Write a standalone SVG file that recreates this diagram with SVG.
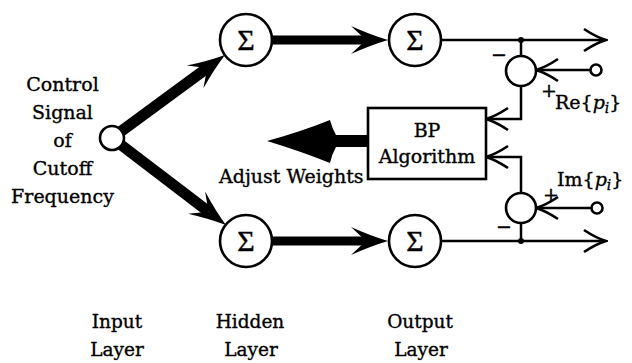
<svg xmlns="http://www.w3.org/2000/svg" width="632" height="363" viewBox="0 0 632 363">
<style>
.t{font-family:"DejaVu Serif","Liberation Serif",serif;font-size:19px;fill:#000;stroke:#000;stroke-width:0.35}
.lbl{font-family:"DejaVu Serif","Liberation Serif",serif;font-size:18.5px;fill:#000;stroke:#000;stroke-width:0.35;text-anchor:middle}
.sig{font-family:"Liberation Serif","DejaVu Serif",serif;font-size:30px;fill:#000;stroke:#000;stroke-width:0.4;text-anchor:middle}
.node{fill:#fff;stroke:#000;stroke-width:2.6}
.thin{fill:none;stroke:#000;stroke-width:2.5}
.thickd{fill:none;stroke:#000;stroke-width:11}
.thickh{fill:none;stroke:#000;stroke-width:9}
</style>
<defs>
<marker id="big" markerUnits="userSpaceOnUse" viewBox="-1 -15 40 30" markerWidth="40" markerHeight="30" refX="15" refY="0" orient="auto">
<path d="M37,0 Q20,-5 0,-14 L15,0 L0,14 Q20,5 37,0 Z" fill="#000"/>
</marker>
<marker id="open" markerUnits="userSpaceOnUse" viewBox="-2 -13 26 26" markerWidth="26" markerHeight="26" refX="21" refY="0" orient="auto">
<path d="M0,-11 Q12,-3 22,0 Q12,3 0,11" fill="none" stroke="#000" stroke-width="2.7"/>
</marker>
</defs>
<g id="connectors">
<line class="thickd" x1="112" y1="138" x2="207.2" y2="68" marker-end="url(#big)"/>
<line class="thickd" x1="112" y1="138" x2="208.5" y2="211.7" marker-end="url(#big)"/>
<line class="thickh" x1="272" y1="40" x2="366" y2="40" marker-end="url(#big)"/>
<line class="thickh" x1="272" y1="241" x2="366" y2="241" marker-end="url(#big)"/>
<line class="thin" x1="441" y1="40" x2="605" y2="40" marker-end="url(#open)"/>
<line class="thin" x1="441" y1="241" x2="605" y2="241" marker-end="url(#open)"/>
<line class="thin" x1="521" y1="40" x2="521" y2="56"/>
<polyline class="thin" points="521,86 521,119 487,119" marker-end="url(#open)"/>
<line class="thin" x1="590" y1="70" x2="537" y2="70" marker-end="url(#open)"/>
<line class="thin" x1="521" y1="241" x2="521" y2="223"/>
<polyline class="thin" points="521,193 521,157 487,157" marker-end="url(#open)"/>
<line class="thin" x1="591" y1="208" x2="537" y2="208" marker-end="url(#open)"/>
<path d="M368,135 L336,135 Q332,128 330,120 Q300,132 267,141 Q300,151 330,163 Q332,154 336,147 L368,147 Z" fill="#000"/>
<circle cx="521" cy="40" r="3" fill="#000"/>
<circle cx="521" cy="241" r="3" fill="#000"/>
</g>
<g id="input">
<circle class="node" cx="112" cy="138" r="12"/>
<text class="t" text-anchor="middle" x="62.5" y="91">Control</text>
<text class="t" text-anchor="middle" x="62.5" y="119">Signal</text>
<text class="t" text-anchor="middle" x="62.5" y="147">of</text>
<text class="t" text-anchor="middle" x="62.5" y="175">Cutoff</text>
<text class="t" text-anchor="middle" x="62.5" y="203">Frequency</text>
</g>
<g id="hidden1"><circle class="node" cx="246" cy="40" r="26"/><text class="sig" x="246" y="50">Σ</text></g>
<g id="hidden2"><circle class="node" cx="246" cy="241" r="26"/><text class="sig" x="246" y="251">Σ</text></g>
<g id="output1"><circle class="node" cx="415" cy="40" r="26"/><text class="sig" x="415" y="50">Σ</text></g>
<g id="output2"><circle class="node" cx="415" cy="241" r="26"/><text class="sig" x="415" y="251">Σ</text></g>
<g id="sumRe">
<circle class="node" cx="521" cy="71" r="15"/>
<text class="t" x="491" y="61">−</text>
<text class="t" x="541" y="97">+</text>
</g>
<g id="sumIm">
<circle class="node" cx="521" cy="208" r="15"/>
<text class="t" x="543" y="201">+</text>
<text class="t" x="496" y="233">−</text>
</g>
<g id="refRe">
<circle class="node" cx="596" cy="70" r="5.5" stroke-width="2.2"/>
<text class="t" x="555" y="109" font-size="21">Re{<tspan font-style="italic">p</tspan><tspan font-style="italic" font-size="14" dy="4">i</tspan><tspan dy="-4">}</tspan></text>
</g>
<g id="refIm">
<circle class="node" cx="597" cy="208" r="5.5" stroke-width="2.2"/>
<text class="t" x="557" y="186" font-size="21">Im{<tspan font-style="italic">p</tspan><tspan font-style="italic" font-size="14" dy="4">i</tspan><tspan dy="-4">}</tspan></text>
</g>
<g id="bp">
<rect class="node" x="368" y="108" width="118" height="71"/>
<text class="t" text-anchor="middle" x="427" y="137">BP</text>
<text class="t" text-anchor="middle" x="427" y="163">Algorithm</text>
</g>
<g id="adjust">
<text class="t" x="219" y="183">Adjust Weights</text>
</g>
<g id="layers">
<text class="lbl" x="117" y="328">Input</text>
<text class="lbl" x="117" y="356">Layer</text>
<text class="lbl" x="250" y="328">Hidden</text>
<text class="lbl" x="251" y="356">Layer</text>
<text class="lbl" x="420" y="328">Output</text>
<text class="lbl" x="421" y="356">Layer</text>
</g>
</svg>
